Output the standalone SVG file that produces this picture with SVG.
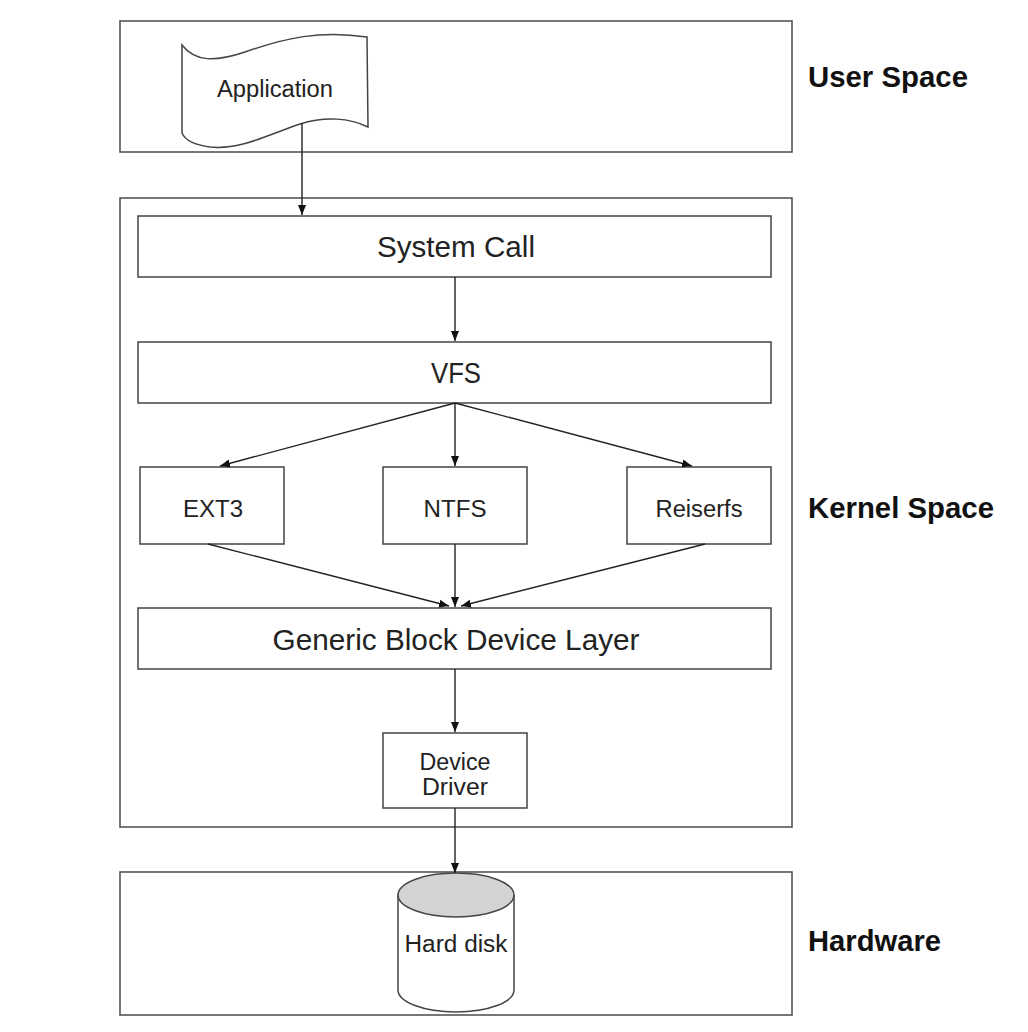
<svg xmlns="http://www.w3.org/2000/svg" width="1028" height="1032" viewBox="0 0 1028 1032">
<defs>
<style>
.region{fill:none;stroke:#555;stroke-width:1.6}
.box{fill:#fff;stroke:#444;stroke-width:1.5}
.t{font-family:"Liberation Sans",Arial,sans-serif;fill:#222;text-anchor:middle}
.big{font-size:30px}
.sm{font-size:23px}
.lab{font-family:"Liberation Sans",Arial,sans-serif;font-weight:bold;font-size:29px;fill:#111}
.conn{stroke:#222;stroke-width:1.4;fill:none;marker-end:url(#ah)}
</style>
<marker id="ah" viewBox="0 0 10 10" refX="10" refY="5" markerWidth="10" markerHeight="10" markerUnits="userSpaceOnUse" orient="auto">
<path d="M0,1 L10,5 L0,9 Z" fill="#111"/>
</marker>
</defs>
<rect width="1028" height="1032" fill="#fff"/>
<g id="user-space">
<rect class="region" x="120" y="21" width="672" height="131"/>
<text class="lab" x="808" y="87" textLength="160" lengthAdjust="spacingAndGlyphs">User Space</text>
</g>
<g id="kernel-space">
<rect class="region" x="120" y="198" width="672" height="629"/>
<text class="lab" x="808" y="518" textLength="186" lengthAdjust="spacingAndGlyphs">Kernel Space</text>
</g>
<g id="hardware">
<rect class="region" x="120" y="872" width="672" height="143"/>
<text class="lab" x="808" y="951" textLength="133" lengthAdjust="spacingAndGlyphs">Hardware</text>
</g>
<g id="application">
<path class="box" d="M182,45 C195,62 215,62 245,52 C285,38 320,30 367,37 L368,127 C350,118 325,116 300,124 C265,136 240,150 210,147 C195,145 185,140 182,133 Z"/>
<text class="t sm" x="275" y="97" textLength="116" lengthAdjust="spacingAndGlyphs">Application</text>
</g>
<g id="system-call">
<rect class="box" x="138" y="216" width="633" height="61"/>
<text class="t big" x="456" y="257" textLength="158" lengthAdjust="spacingAndGlyphs">System Call</text>
</g>
<g id="vfs">
<rect class="box" x="138" y="342" width="633" height="61"/>
<text class="t big" x="456" y="383" textLength="50" lengthAdjust="spacingAndGlyphs">VFS</text>
</g>
<g id="ext3">
<rect class="box" x="140" y="467" width="144" height="77"/>
<text class="t sm" x="213" y="517" textLength="60" lengthAdjust="spacingAndGlyphs">EXT3</text>
</g>
<g id="ntfs">
<rect class="box" x="383" y="467" width="144" height="77"/>
<text class="t sm" x="455" y="517" textLength="63" lengthAdjust="spacingAndGlyphs">NTFS</text>
</g>
<g id="reiserfs">
<rect class="box" x="627" y="467" width="144" height="77"/>
<text class="t sm" x="699" y="517" textLength="87" lengthAdjust="spacingAndGlyphs">Reiserfs</text>
</g>
<g id="generic-block">
<rect class="box" x="138" y="608" width="633" height="61"/>
<text class="t big" x="456" y="650" textLength="367" lengthAdjust="spacingAndGlyphs">Generic Block Device Layer</text>
</g>
<g id="device-driver">
<rect class="box" x="383" y="733" width="144" height="75"/>
<text class="t sm" x="455" y="770" textLength="71" lengthAdjust="spacingAndGlyphs">Device</text>
<text class="t sm" x="455" y="795" textLength="66" lengthAdjust="spacingAndGlyphs">Driver</text>
</g>
<g id="hard-disk">
<path class="box" d="M398,895 L398,990 A58,22 0 0 0 514,990 L514,895"/>
<ellipse cx="456" cy="895" rx="58" ry="22" fill="#d3d3d3" stroke="#444" stroke-width="1.5"/>
<text class="t sm" x="456" y="952" textLength="103" lengthAdjust="spacingAndGlyphs">Hard disk</text>
</g>
<g id="connectors">
<line class="conn" x1="302" y1="123" x2="302" y2="215"/>
<line class="conn" x1="455" y1="277" x2="455" y2="341"/>
<line class="conn" x1="455" y1="403" x2="220" y2="466"/>
<line class="conn" x1="455" y1="403" x2="455" y2="466"/>
<line class="conn" x1="455" y1="403" x2="692" y2="466"/>
<line class="conn" x1="208" y1="544" x2="449" y2="606"/>
<line class="conn" x1="455" y1="544" x2="455" y2="607"/>
<line class="conn" x1="705" y1="544" x2="461" y2="606"/>
<line class="conn" x1="455" y1="669" x2="455" y2="732"/>
<line class="conn" x1="455" y1="808" x2="455" y2="873"/>
</g>
</svg>
